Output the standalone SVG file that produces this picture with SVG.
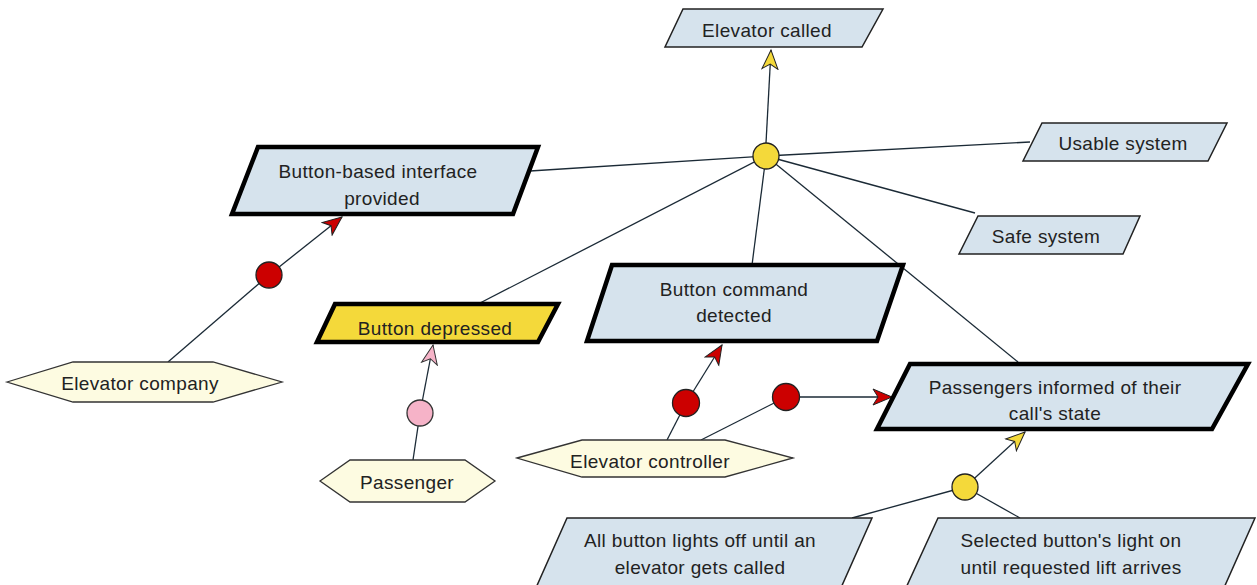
<svg xmlns="http://www.w3.org/2000/svg" width="1257" height="585" viewBox="0 0 1257 585">
  <style>
    .goal { fill: #d6e3ed; stroke: #222; stroke-width: 1.5; stroke-linejoin: miter; }
    .goal.req { stroke: #000; stroke-width: 4.5; }
    .goal.hit { fill: #f4d93a; }
    .agent { fill: #fdfbe1; stroke: #333; stroke-width: 1.3; }
    .link { fill: none; stroke: #1b2a36; stroke-width: 1.3; }
    .ref-and { fill: #f4d93a; stroke: #222; stroke-width: 1.3; }
    .ref-resp { fill: #cc0000; stroke: #222; stroke-width: 1.3; }
    .ref-mon { fill: #f6b3c8; stroke: #333; stroke-width: 1.3; }
    text { font-family: "Liberation Sans", Arial, sans-serif; font-size: 19px; letter-spacing: 0.35px; fill: #222; text-anchor: middle; }
  </style>
  <defs>
    <marker id="arrow-yellow" markerUnits="userSpaceOnUse" markerWidth="22" markerHeight="20" refX="20" refY="9" orient="auto" viewBox="0 0 22 18">
      <path d="M20,9 L1,1 L6,9 L1,17 Z" fill="#f4d93a" stroke="#222" stroke-width="1"/>
    </marker>
    <marker id="arrow-red" markerUnits="userSpaceOnUse" markerWidth="22" markerHeight="20" refX="20" refY="9" orient="auto" viewBox="0 0 22 18">
      <path d="M20,9 L1,1 L6,9 L1,17 Z" fill="#cc0000" stroke="#222" stroke-width="1"/>
    </marker>
    <marker id="arrow-pink" markerUnits="userSpaceOnUse" markerWidth="22" markerHeight="20" refX="20" refY="9" orient="auto" viewBox="0 0 22 18">
      <path d="M20,9 L1,1 L6,9 L1,17 Z" fill="#f6b3c8" stroke="#333" stroke-width="1"/>
    </marker>
  </defs>

  <!-- connectors -->
  <g id="connectors">
    <line class="link" x1="766" y1="143" x2="771" y2="50" marker-end="url(#arrow-yellow)"/>
    <line class="link" x1="766" y1="156" x2="530" y2="171"/>
    <line class="link" x1="766" y1="156" x2="1030" y2="142"/>
    <line class="link" x1="766" y1="156" x2="975" y2="213"/>
    <line class="link" x1="766" y1="156" x2="480" y2="303"/>
    <line class="link" x1="766" y1="156" x2="752" y2="265"/>
    <line class="link" x1="766" y1="156" x2="1018" y2="362"/>

    <line class="link" x1="168" y1="362" x2="269" y2="275"/>
    <line class="link" x1="269" y1="275" x2="342" y2="217" marker-end="url(#arrow-red)"/>

    <line class="link" x1="413" y1="460" x2="420" y2="413"/>
    <line class="link" x1="420" y1="413" x2="433" y2="345" marker-end="url(#arrow-pink)"/>

    <line class="link" x1="667" y1="440" x2="686" y2="403"/>
    <line class="link" x1="686" y1="403" x2="722" y2="345" marker-end="url(#arrow-red)"/>
    <line class="link" x1="701" y1="440" x2="786" y2="397"/>
    <line class="link" x1="786" y1="397" x2="892" y2="397" marker-end="url(#arrow-red)"/>

    <line class="link" x1="965" y1="487" x2="1025" y2="432" marker-end="url(#arrow-yellow)"/>
    <line class="link" x1="965" y1="487" x2="852" y2="518"/>
    <line class="link" x1="965" y1="487" x2="1020" y2="518"/>
  </g>

  <!-- refinement / responsibility nodes -->
  <g id="and-main"><circle class="ref-and" cx="766" cy="156" r="13"/></g>
  <g id="resp-company"><circle class="ref-resp" cx="269" cy="275" r="13"/></g>
  <g id="mon-passenger"><circle class="ref-mon" cx="420" cy="413" r="13"/></g>
  <g id="resp-controller-1"><circle class="ref-resp" cx="686" cy="403" r="13.5"/></g>
  <g id="resp-controller-2"><circle class="ref-resp" cx="786" cy="397" r="13.5"/></g>
  <g id="and-informed"><circle class="ref-and" cx="965" cy="487" r="13"/></g>

  <!-- goals -->
  <g id="elevator-called">
    <polygon class="goal" points="683,9 883,9 862,47 665,47"/>
    <text x="767" y="37">Elevator called</text>
  </g>
  <g id="button-interface">
    <polygon class="goal req" points="258,147 538,147 513,214 232,214"/>
    <text x="378" y="178">Button-based interface</text>
    <text x="382" y="205">provided</text>
  </g>
  <g id="usable-system">
    <polygon class="goal" points="1042,123 1227,123 1208,161 1023,161"/>
    <text x="1123" y="150">Usable system</text>
  </g>
  <g id="safe-system">
    <polygon class="goal" points="978,216 1140,216 1123,254 959,254"/>
    <text x="1046" y="243">Safe system</text>
  </g>
  <g id="button-depressed">
    <polygon class="goal req hit" points="335,304 558,304 538,342 317,342"/>
    <text x="435" y="335">Button depressed</text>
  </g>
  <g id="button-command">
    <polygon class="goal req" points="612,265 903,265 877,341 587,341"/>
    <text x="734" y="296">Button command</text>
    <text x="734" y="322">detected</text>
  </g>
  <g id="passengers-informed">
    <polygon class="goal req" points="910,364 1248,364 1212,429 877,429"/>
    <text x="1055" y="394">Passengers informed of their</text>
    <text x="1055" y="420">call's state</text>
  </g>
  <g id="lights-off">
    <polygon class="goal" points="567,518 872,518 840,590 535,590"/>
    <text x="700" y="547">All button lights off until an</text>
    <text x="700" y="574">elevator gets called</text>
  </g>
  <g id="light-on">
    <polygon class="goal" points="938,518 1255,518 1223,590 905,590"/>
    <text x="1071" y="547">Selected button's light on</text>
    <text x="1071" y="574">until requested lift arrives</text>
  </g>

  <!-- agents -->
  <g id="elevator-company">
    <polygon class="agent" points="7,382 73,362 213,362 282,382 213,402 73,402"/>
    <text x="140" y="390">Elevator company</text>
  </g>
  <g id="passenger">
    <polygon class="agent" points="320,481 350,460 465,460 495,481 465,502 350,502"/>
    <text x="407" y="489">Passenger</text>
  </g>
  <g id="elevator-controller">
    <polygon class="agent" points="517,458 582,440 725,440 793,458 725,477 582,477"/>
    <text x="650" y="468">Elevator controller</text>
  </g>
</svg>
